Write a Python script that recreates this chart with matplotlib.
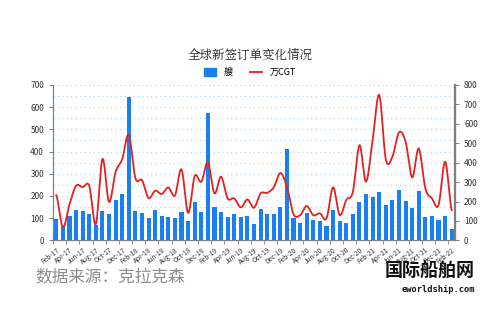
import numpy as np
import pandas as pd
import matplotlib
matplotlib.use("Agg")
import matplotlib.pyplot as plt
from matplotlib.lines import Line2D
from matplotlib.patches import Patch

plt.rcParams['font.family'] = ['Noto Sans CJK SC', 'DejaVu Sans']

# monthly data, Feb-17 .. Feb-22
months = pd.date_range("2017-02-01", "2022-02-01", freq="MS").strftime("%b-%y").tolist()

ships = [98, 63, 112, 138, 132, 120, 71, 134, 120, 182, 207, 645,
         134, 125, 100, 136, 108, 106, 102, 128, 87, 173, 126, 575,
         150, 126, 105, 120, 107, 111, 72, 143, 117, 117, 149, 410,
         99, 80, 123, 93, 89, 65, 136, 86, 79, 117, 171, 208,
         196, 220, 161, 184, 225, 176, 146, 223, 105, 110, 90, 110, 51]

cgt = [233, 68, 185, 281, 274, 280, 84, 419, 198, 352, 418, 543,
       320, 310, 218, 256, 239, 273, 231, 365, 142, 331, 302, 400,
       242, 328, 216, 216, 170, 211, 168, 242, 245, 273, 347, 275,
       135, 130, 177, 130, 139, 113, 273, 130, 208, 250, 490, 302,
       516, 748, 417, 430, 556, 508, 324, 473, 268, 216, 182, 405, 156]


def catmull_rom(y, steps=20):
    # smooth curve through every point (like a "smoothed line" chart)
    y = np.asarray(y, dtype=float)
    p = np.concatenate([[y[0]], y, [y[-1]]])
    xs, ys = [], []
    t = np.linspace(0, 1, steps, endpoint=False)
    for i in range(len(y) - 1):
        p0, p1, p2, p3 = p[i], p[i + 1], p[i + 2], p[i + 3]
        seg = 0.5 * (2 * p1 + (-p0 + p2) * t + (2 * p0 - 5 * p1 + 4 * p2 - p3) * t ** 2
                     + (-p0 + 3 * p1 - 3 * p2 + p3) * t ** 3)
        xs.append(i + t)
        ys.append(seg)
    xs.append([len(y) - 1])
    ys.append([y[-1]])
    return np.concatenate(xs), np.concatenate(ys)


blue = "#1a7ff0"
red = "#e3211f"
grey = "#808080"

fig = plt.figure(figsize=(5, 3.33), dpi=100)
ax = fig.add_axes([0.106, 0.278, 0.804, 0.467])
x = np.arange(len(months))

ax.bar(x, ships, width=0.62, color=blue, zorder=3)
ax.set_xlim(-0.5, len(months) - 0.5)
ax.set_ylim(0, 700)
ax.set_yticks(range(0, 701, 100))
for v in range(50, 701, 50):
    ax.axhline(v, color="#a9d3f2", lw=0.8, ls=(0, (1, 3)), zorder=1)

ax.set_xticks(x[::2])
ax.set_xticklabels(months[::2], rotation=38, ha="right", rotation_mode="anchor")
ax.set_xticks(np.arange(-0.5, len(months), 2), minor=True)
ax.tick_params(axis="x", which="major", length=0, labelsize=4.8, pad=4, colors="#333333")
ax.tick_params(axis="x", which="minor", length=3, color=grey)
ax.tick_params(axis="y", labelsize=6, length=3, color=grey, colors="#333333")

ax2 = ax.twinx()
sx, sy = catmull_rom(cgt)
ax2.plot(sx, sy, color=red, lw=1.3, zorder=4)
ax2.set_ylim(0, 800)
ax2.set_yticks(range(0, 801, 100))
ax2.tick_params(axis="y", labelsize=6, length=3, color=grey, colors="#333333")

for a in (ax, ax2):
    a.spines["top"].set_visible(False)
    a.spines["left"].set_color(grey)
    a.spines["bottom"].set_color(grey)
    a.spines["right"].set_color(grey)
ax2.spines["right"].set_linewidth(1.6)

fig.text(0.5, 0.835, "全球新签订单变化情况", ha="center", va="center", fontsize=9, color="#222222",
         family=["Noto Serif CJK SC", "Noto Sans CJK SC", "DejaVu Sans"])

handles = [Patch(color=blue), Line2D([], [], color=red, lw=1.3)]
fig.legend(handles, ["艘", "万CGT"], loc="center", bbox_to_anchor=(0.5, 0.782), ncol=2,
           frameon=False, fontsize=6.5, handlelength=1.3, handleheight=0.9, columnspacing=2.0)

fig.text(0.07, 0.168, "数据来源：克拉克森", ha="left", va="center", fontsize=12,
         color="#8c8c8c", style="italic")
fig.text(0.95, 0.185, "国际船舶网", ha="right", va="center", fontsize=13, weight="bold", color="#111111")
fig.text(0.95, 0.132, "eworldship.com", ha="right", va="center", fontsize=6.3, weight="bold",
         color="#111111", family="DejaVu Sans Mono")

fig.savefig("out.png", dpi=100)
